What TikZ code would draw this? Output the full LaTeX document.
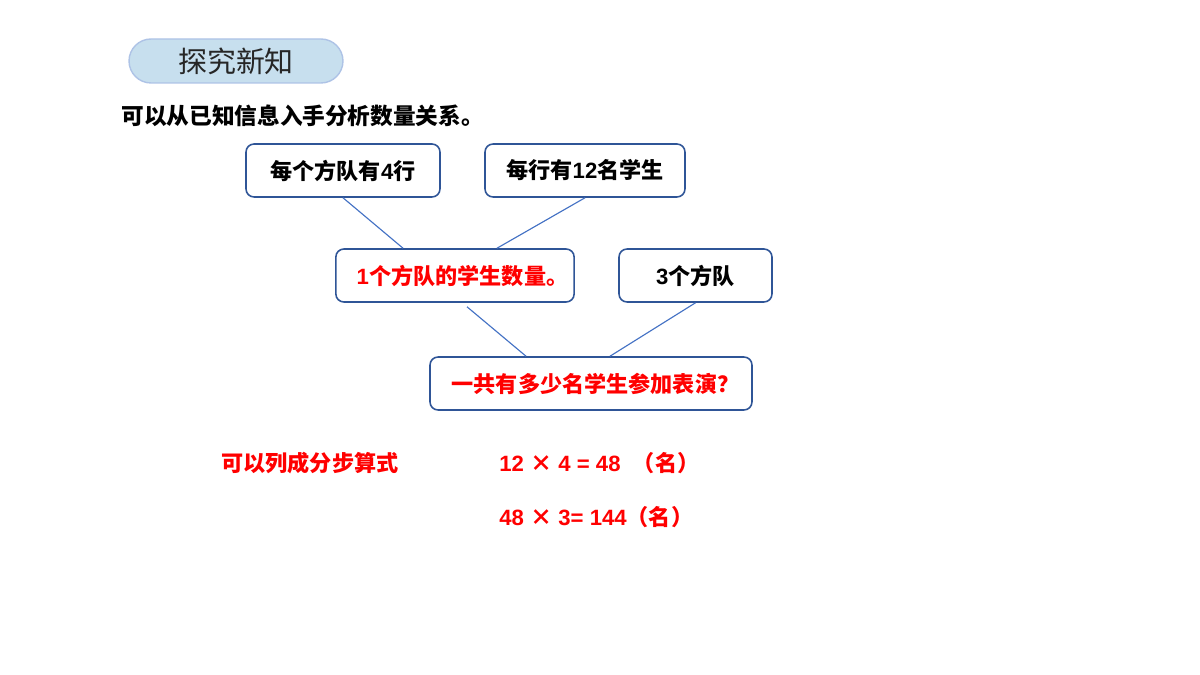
\documentclass[tikz,border=0pt]{standalone}
\usepackage{fontspec}
\setmainfont{Liberation Sans}
\newfontfamily\cjk{Noto Sans CJK SC}
\usetikzlibrary{positioning,calc}

\definecolor{boxblue}{HTML}{2F5597}
\definecolor{lineblue}{HTML}{4472C4}
\definecolor{pillfill}{HTML}{C7DFEE}
\definecolor{pilldraw}{HTML}{AEC3E6}
\definecolor{hotred}{HTML}{FF0000}

\tikzset{
  pill/.style={draw=pilldraw, fill=pillfill, line width=0.8pt, rounded corners=0.44cm,
    minimum width=4.28cm, minimum height=0.88cm},
  infobox/.style={draw=boxblue, line width=0.9pt, rounded corners=0.16cm,
    minimum height=1.06cm, font=\bfseries\fontsize{12.6}{14}\selectfont},
  plain/.style={anchor=west, inner sep=0pt, font=\bfseries\fontsize{12.6}{14}\selectfont},
  link/.style={draw=lineblue, line width=0.65pt}
}

\begin{document}
\begin{tikzpicture}[x=0.02cm, y=-0.02cm]
  \useasboundingbox (0,0) rectangle (1200,675);
  % heading
  \node[pill, text=black!85, font=\fontsize{16.5}{18}\selectfont] (title) at (236,61) {\cjk 探究新知};
  \node[plain, font=\bfseries\fontsize{12.9}{14}\selectfont] (intro) at (121,116) {\cjk 可以从已知信息入手分析数量关系。};
  % the boxes
  \node[infobox, minimum width=3.88cm] (rows) at (343,170.5) {\cjk 每个方队有\normalfont\bfseries 4\cjk 行};
  \node[infobox, minimum width=4cm] (perrow) at (585,170.5) {\cjk 每行有\normalfont\bfseries 12\cjk 名学生};
  \node[infobox, minimum width=4.76cm, text=hotred] (onesq) at (455,275.5) {\hspace{0.3cm}1{\cjk 个方队的学生数量。}};
  \node[infobox, minimum width=3.06cm] (threesq) at (695.5,275.5) {3{\cjk 个方队}};
  \node[infobox, minimum width=6.44cm, text=hotred] (total) at (591,383.5) {\hspace{0.18cm}{\cjk 一共有多少名学生参加表演？}};
  % connectors
  \draw[link] (rows.south) -- ([xshift=-1.04cm]onesq.north);
  \draw[link] (perrow.south) -- ([xshift=0.84cm]onesq.north);
  \draw[link] ([xshift=0.24cm,yshift=-0.08cm]onesq.south) -- ([xshift=-1.3cm]total.north);
  \draw[link] (threesq.south) -- ([xshift=0.38cm]total.north);
  % the two steps
  \node[plain, text=hotred] (steps) at (221,463) {\cjk 可以列成分步算式};
  \node[plain, text=hotred] (stepone) at (499,463) {12 {\cjk ×} 4 = 48 \ {\cjk （名）}};
  \node[plain, text=hotred] (steptwo) at (499,517) {48 {\cjk ×} 3= 144{\cjk （名）}};
\end{tikzpicture}
\end{document}
